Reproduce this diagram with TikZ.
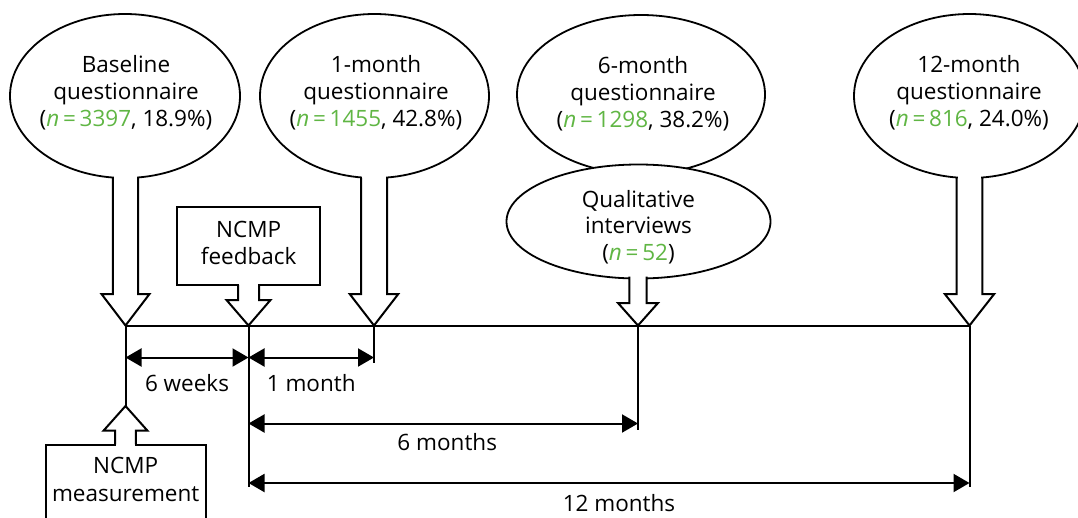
\documentclass[tikz,border=0pt]{standalone}
\usepackage{fontspec}
\setmainfont{Open Sans}
\usetikzlibrary{arrows.meta,shapes.geometric,calc}
\definecolor{grn}{RGB}{96,182,68}
\newcommand{\nn}[1]{{\color{grn}\textit{n}\,=\,#1}}
% down block arrow: tip, head half-width, head length, stem half-width, stem length
\newcommand{\downblk}[5]{%
  \fill[white] ($(#1)+({-#4+1},{-#3})$) rectangle ($(#1)+({#4-1},{-#3-#5-4})$);
  \draw[line join=miter] ($(#1)+({-#4},{-#3-#5})$) -- ++(0,#5) -- ++({#4-#2},0) -- (#1)
     -- ++(#2,-#3) -- ++({#4-#2},0) -- ++(0,-#5);}
\newcommand{\upblk}[5]{%
  \fill[white] ($(#1)+({-#4+1},{#3})$) rectangle ($(#1)+({#4-1},{#3+#5+4})$);
  \draw[line join=miter] ($(#1)+({-#4},{#3+#5})$) -- ++(0,-#5) -- ++({#4-#2},0) -- (#1)
     -- ++(#2,#3) -- ++({#4-#2},0) -- ++(0,#5);}
\begin{document}
\begin{tikzpicture}[x=1pt,y=-1pt,line width=2pt,
  font=\fontsize{22.5}{27}\selectfont,
  ell/.style={ellipse,draw,fill=white,inner sep=0pt,line width=1.8pt},
  boxn/.style={rectangle,draw,fill=white,inner sep=0pt},
  txt/.style={align=center,inner sep=0pt},
  dim/.style={{Triangle[length=16pt,width=18pt]}-{Triangle[length=16pt,width=18pt]}},
  lab/.style={anchor=base,inner sep=0pt}]
\useasboundingbox (0,0) rectangle (1078,517);
% timeline points
\coordinate (t0) at (125.5,325.5);
\coordinate (t1) at (248.5,325.5);
\coordinate (t2) at (374,325.5);
\coordinate (t3) at (638,325.5);
\coordinate (t4) at (969.5,325.5);
\coordinate (m) at (125.5,406);
% ellipses (text anchored at baseline of last line)
\node[ell,minimum width=230pt,minimum height=164pt] (base) at (125,96) {};
\node[txt,anchor=base] (baset) at (126,126) {Baseline\\questionnaire\\(\nn{3397}, 18.9\%)};
\node[ell,minimum width=229pt,minimum height=164pt] (m1) at (374.5,96) {};
\node[txt,anchor=base] (m1t) at (376,126) {1-month\\questionnaire\\(\nn{1455}, 42.8\%)};
\node[ell,minimum width=248pt,minimum height=159pt] (m6) at (641,94.5) {};
\node[txt,anchor=base] (m6t) at (643,127) {6-month\\questionnaire\\(\nn{1298}, 38.2\%)};
\node[ell,minimum width=231pt,minimum height=164pt] (m12) at (969.5,96) {};
\node[txt,anchor=base] (m12t) at (969,126) {12-month\\questionnaire\\(\nn{816}, 24.0\%)};
\node[ell,minimum width=264pt,minimum height=114pt] (qual) at (638.5,221.5) {};
\node[txt,anchor=base,font=\fontsize{22.5}{26.5}\selectfont] (qualt) at (638.5,260) {Qualitative\\interviews\\(\nn{52})};
% boxes
\node[boxn,minimum width=142.7pt,minimum height=78.3pt] (fb) at (248.7,245.8) {};
\node[txt,anchor=base,font=\fontsize{22.5}{27.3}\selectfont] (fbt) at (248.7,264.3) {NCMP\\feedback};
\node[boxn,minimum width=160pt,minimum height=110pt,anchor=north] (ms) at (125.7,444.3) {};
\node[txt,anchor=base,font=\fontsize{22.5}{28.7}\selectfont] (mst) at (125.7,501.7) {NCMP\\measurement};
% timeline and extension lines
\draw (t0) -- (t4);
\draw (t0) -- (m);
\draw (t1) -- ++(0,161);
\draw (t2) -- ++(0,37.5);
\draw (t3) -- ++(0,104);
\draw (t4) -- ++(0,161);
% block arrows
\downblk{t0}{24}{31.5}{12.6}{116}
\downblk{t2}{24.3}{31.5}{13}{116}
\downblk{t4}{24.7}{31.5}{12.8}{116}
\downblk{t1}{22}{25.5}{10.5}{15}
\downblk{t3}{20}{22.5}{8.7}{26.5}
\upblk{m}{22}{24.7}{10.3}{13.6}
% dimension arrows
\draw[dim] ($(t0)+(0,32)$) -- node[lab,midway,yshift=-34.4pt] (l1) {6 weeks} ($(t1)+(0,32)$);
\draw[dim] ($(t1)+(0,32)$) -- node[lab,midway,yshift=-34.4pt] (l2) {1 month} ($(t2)+(0,32)$);
\draw[dim] ($(t1)+(0,98)$) -- node[lab,midway,xshift=4pt,yshift=-26.7pt] (l3) {6 months} ($(t3)+(0,98)$);
\draw[dim] ($(t1)+(0,157.5)$) -- node[lab,midway,xshift=10pt,yshift=-28.7pt] (l4) {12 months} ($(t4)+(0,157.5)$);
\end{tikzpicture}
\end{document}
